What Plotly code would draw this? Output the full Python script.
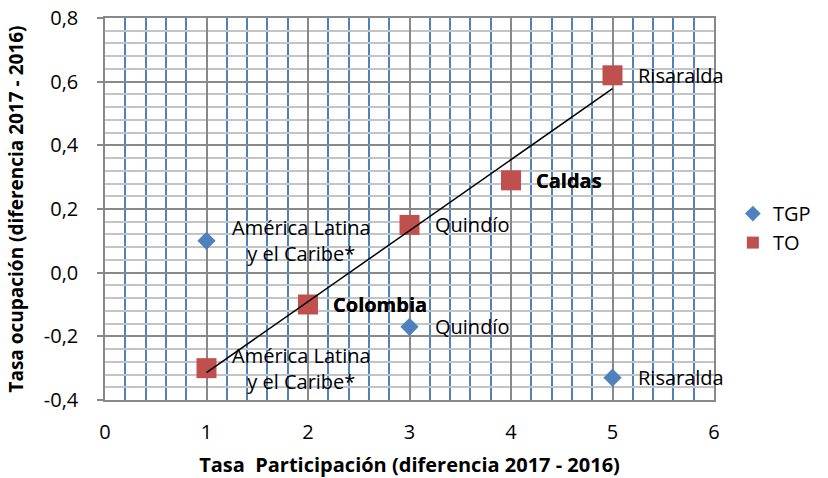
import numpy as np
import plotly.graph_objects as go

# Datos
tgp_x = [1, 2, 3, 4, 5]
tgp_y = [0.10, -0.10, -0.17, 0.29, -0.33]
tgp_labels = ["América Latina<br>y el Caribe*", "Colombia", "Quindío", "Caldas", "Risaralda"]

to_x = [1, 2, 3, 4, 5]
to_y = [-0.30, -0.10, 0.15, 0.29, 0.62]
to_labels = ["América Latina<br>y el Caribe*", "Colombia", "Quindío", "Caldas", "Risaralda"]

y_ticks = [-0.4, -0.2, 0.0, 0.2, 0.4, 0.6, 0.8]
y_ticklabels = ["-0,4", "-0,2", "0,0", "0,2", "0,4", "0,6", "0,8"]

FONT = "'Open Sans', Calibri, sans-serif"
BLUE = "#4F81BD"
RED = "#C0504D"
GRAY = "#898989"

fig = go.Figure()

fig.add_trace(go.Scatter(
    x=tgp_x, y=tgp_y, mode="markers", name="TGP",
    marker=dict(symbol="diamond", size=14, color=BLUE),
))
fig.add_trace(go.Scatter(
    x=to_x, y=to_y, mode="markers", name="TO",
    marker=dict(symbol="square", size=20, color=RED),
))

# linea de tendencia lineal sobre TO
slope, intercept = np.polyfit(to_x, to_y, 1)
tx = np.array([min(to_x), max(to_x)])
fig.add_trace(go.Scatter(
    x=tx, y=slope * tx + intercept, mode="lines", showlegend=False,
    line=dict(color="black", width=1.5), hoverinfo="skip",
))

# etiquetas
for xs, ys, labels in [(tgp_x, tgp_y, tgp_labels), (to_x, to_y, to_labels)]:
    for x, y, lab in zip(xs, ys, labels):
        bold = lab in ("Colombia", "Caldas")
        fig.add_annotation(
            x=x, y=y, text=f"<b>{lab}</b>" if bold else lab, showarrow=False,
            xanchor="left", yanchor="middle", xshift=23, align="center",
            font=dict(family=FONT, size=20, color="black"),
        )

fig.update_layout(
    width=828, height=478,
    margin=dict(l=105, r=112, t=18, b=78),
    paper_bgcolor="white", plot_bgcolor="white",
    font=dict(family=FONT, size=20, color="black"),
    legend=dict(x=1.031, y=0.45, xanchor="left", yanchor="middle",
                font=dict(size=20), itemwidth=30, itemsizing="constant"),
    xaxis=dict(
        range=[0, 6], dtick=1, tick0=0, showgrid=True, gridcolor=GRAY, gridwidth=1.5,
        minor=dict(dtick=0.2, showgrid=True, gridcolor=BLUE, gridwidth=1.5),
        zeroline=False, showline=True, linecolor=GRAY, linewidth=1.5, mirror=True,
        ticks="", ticklabelstandoff=13, automargin=False,
        tickfont=dict(size=20),
        title=dict(text="<b>Tasa  Participación (diferencia 2017 - 2016)</b>",
                   font=dict(size=20)),
    ),
    yaxis=dict(
        range=[-0.4, 0.8], tickvals=y_ticks, ticktext=y_ticklabels,
        showgrid=True, gridcolor=GRAY, gridwidth=1.5,
        minor=dict(dtick=0.04, tick0=0, showgrid=True, gridcolor="#C4C4C4", gridwidth=1.5),
        zeroline=False, showline=True, linecolor=GRAY, linewidth=1.5, mirror=True,
        ticks="outside", ticklen=6, tickcolor=GRAY, tickwidth=1.5, automargin=False,
        ticklabelstandoff=15, tickfont=dict(size=20),
        title=dict(text="<b>Tasa ocupación (diferencia 2017 - 2016)</b>",
                   font=dict(size=19)),
    ),
)

# quitar el margen por defecto del body para que la figura quede en (0, 0)
fig.write_html("out.html", config={"displayModeBar": False},
               post_script="document.body.style.margin = '0';")
